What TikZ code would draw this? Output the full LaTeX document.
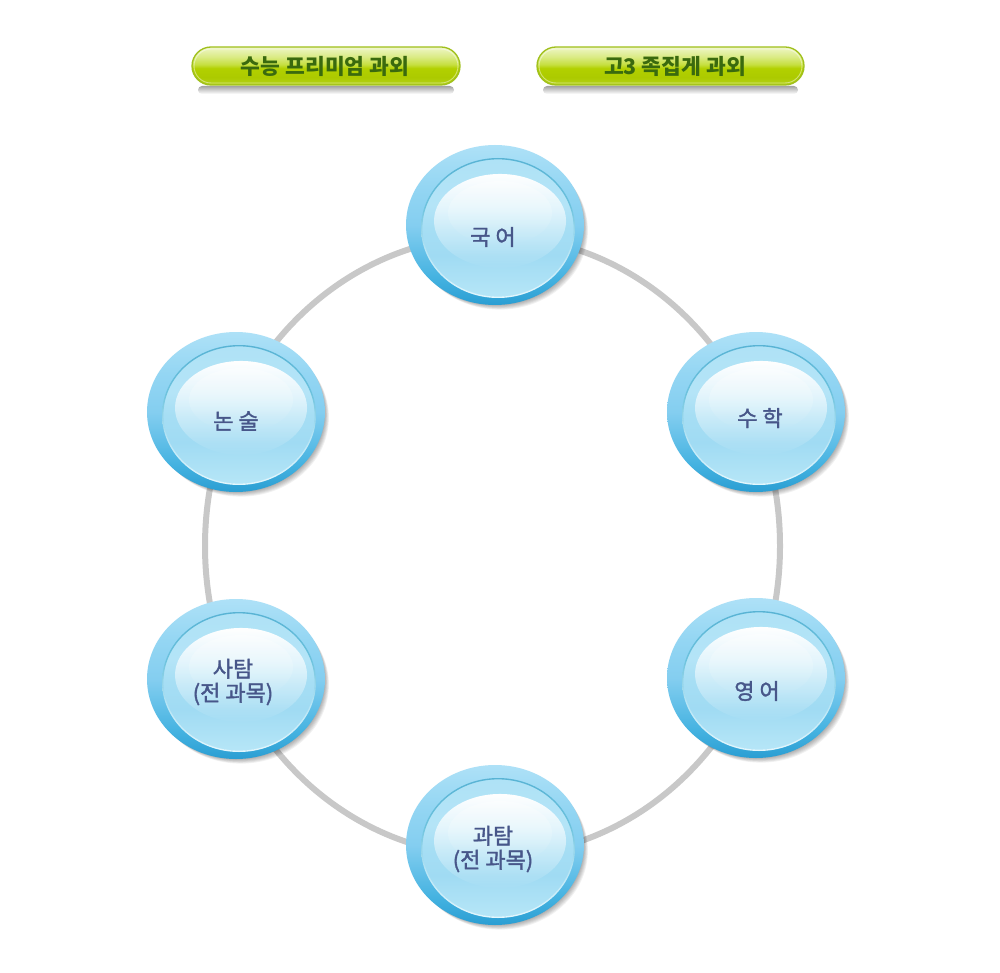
\documentclass[tikz,border=0pt]{standalone}
\usepackage{fontspec}
\newfontfamily\kr{Noto Sans CJK KR}
\newfontfamily\krm[FakeBold=1.6]{Noto Sans CJK KR}
\usetikzlibrary{fadings}
\definecolor{ringgray}{HTML}{C8C8C8}
\definecolor{balltxt}{HTML}{475689}
\definecolor{btntxt}{HTML}{3A6A0E}
\definecolor{btnborder}{HTML}{A0C01C}
% ball body colours (bottom -> top)
\definecolor{bb1}{HTML}{2A9ED3}
\definecolor{bb2}{HTML}{46B3E1}
\definecolor{bb3}{HTML}{84CEF0}
\definecolor{bb4}{HTML}{94D6F3}
\definecolor{bb5}{HTML}{AEE1F7}
\pgfdeclareverticalshading{ballbody}{100bp}{color(0bp)=(bb1);color(25bp)=(bb1);color(34bp)=(bb2);color(50bp)=(bb3);color(62bp)=(bb4);color(75bp)=(bb5);color(100bp)=(bb5)}
\definecolor{bi1}{HTML}{B6E6F7}
\definecolor{bi2}{HTML}{A0DBF3}
\definecolor{bi3}{HTML}{A6DEF4}
\definecolor{bi4}{HTML}{B4E4F7}
\definecolor{bi5}{HTML}{AFE2F6}
\pgfdeclareverticalshading{ballinner}{100bp}{color(0bp)=(bi1);color(25bp)=(bi1);color(40bp)=(bi2);color(50bp)=(bi3);color(58bp)=(bi4);color(75bp)=(bi5);color(100bp)=(bi5)}
\definecolor{br1}{HTML}{E4F7FD}
\definecolor{br2}{HTML}{B8E5F5}
\definecolor{br3}{HTML}{6CC2DD}
\definecolor{br4}{HTML}{58B3D4}
\pgfdeclareverticalshading{ballring}{100bp}{color(0bp)=(br1);color(25bp)=(br1);color(42bp)=(br2);color(58bp)=(br3);color(75bp)=(br4);color(100bp)=(br4)}
% button colours (bottom -> top)
\definecolor{gb1}{HTML}{B4D21A}
\definecolor{gb2}{HTML}{ACCA00}
\definecolor{gb3}{HTML}{B2D000}
\definecolor{gb4}{HTML}{C6DF40}
\definecolor{gb5}{HTML}{DAEB84}
\definecolor{gb6}{HTML}{EFF6C8}
\pgfdeclareverticalshading{btnbody}{100bp}{color(0bp)=(gb1);color(25bp)=(gb1);color(35bp)=(gb2);color(47bp)=(gb3);color(52bp)=(gb4);color(62bp)=(gb5);color(75bp)=(gb6);color(100bp)=(gb6)}
\definecolor{sh1}{HTML}{FFFFFF}
\definecolor{sh2}{HTML}{A4A4A4}
\pgfdeclareverticalshading{btnshadow}{100bp}{color(0bp)=(sh1);color(25bp)=(sh1);color(75bp)=(sh2);color(100bp)=(sh2)}

\tikzfading[name=hlfade, top color=transparent!0, middle color=transparent!35, bottom color=transparent!100]

\tikzset{
  balltext/.style={text=balltxt, font=\krm\fontsize{22}{24}\selectfont, align=center, inner sep=0pt},
  btntext/.style={text=btntxt, font=\kr\bfseries\fontsize{21.5}{24}\selectfont, inner sep=0pt},
  ringline/.style={draw=ringgray, line width=6pt},
}

% #1 name, #2 x, #3 y, #4 text x, #5 text y, #6 text
\newcommand\glassball[6]{%
  \begin{scope}[shift={(#2,#3)}]
    \foreach \k in {1,...,7}{\fill[black,opacity=0.055] (\k*0.7,\k*0.8) ellipse [x radius=88pt, y radius=79pt];}
    \shade[shading=ballbody] (0,0) ellipse [x radius=89pt, y radius=80pt];
    \shade[shading=ballinner] (3,3) ellipse [x radius=76pt, y radius=69pt];
    \fill[white, path fading=hlfade] (5,-4) ellipse [x radius=66pt, y radius=47pt];
    \fill[white, opacity=0.35, path fading=hlfade] (5,-12) ellipse [x radius=52pt, y radius=32pt];
    \shade[shading=ballring, even odd rule] (3,3) ellipse [x radius=77pt, y radius=70pt] (3,3) ellipse [x radius=75.6pt, y radius=68.6pt];
  \end{scope}
  \node[balltext] (#1) at (#4,#5) {#6};
}

% #1 name, #2 x1, #3 x2, #4 text x, #5 text
\newcommand\pillbtn[5]{%
  \shade[shading=btnshadow, rounded corners=4pt] (#2+6,86) rectangle (#3-6,94);
  \shade[shading=btnbody, draw=btnborder, line width=1.3pt, rounded corners=19pt] (#2,47) rectangle (#3,85);
  \draw[white, opacity=0.45, line width=0.9pt, rounded corners=17pt] (#2+2,49) rectangle (#3-2,83);
  \node[btntext] (#1) at (#4,66) {#5};
}

\begin{document}
\begin{tikzpicture}[x=1pt,y=-1pt]
  \fill[white] (0,0) rectangle (1000,973);
  \useasboundingbox (0,0) rectangle (1000,973);

  \pillbtn{btnA}{192}{460}{325}{수능 프리미엄 과외}
  \pillbtn{btnB}{537}{804}{675}{고3 족집게 과외}

  \draw[ringline] (492.5,546) ellipse [x radius=287.5pt, y radius=310pt];

  \glassball{kor}{495}{225}{493}{237}{국 어}
  \glassball{nons}{236}{412}{236}{421}{논 술}
  \glassball{math}{756}{412}{760}{418}{수 학}
  \glassball{soc}{236}{679}{233}{682}{사탐\\(전 과목)}
  \glassball{eng}{756}{678}{757}{691}{영 어}
  \glassball{sci}{495}{845}{493}{849}{과탐\\(전 과목)}
\end{tikzpicture}
\end{document}
